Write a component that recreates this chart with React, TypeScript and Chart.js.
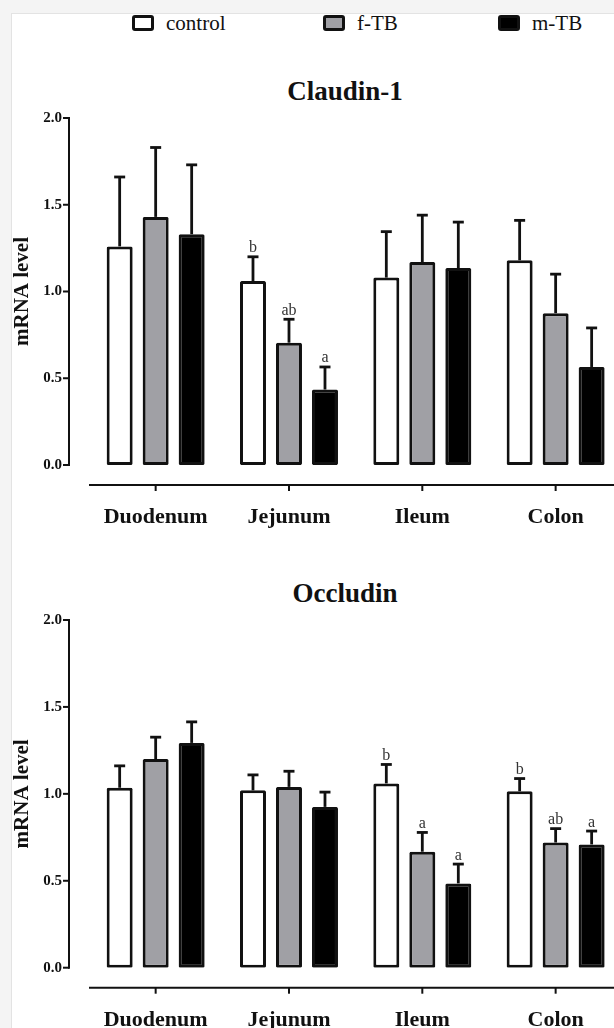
import React, { useEffect, useRef } from 'react';
import { Chart, registerables } from 'chart.js';

Chart.register(...registerables);

const FONT = '"Liberation Serif", "Times New Roman", Times, serif';

const categories = ['Duodenum', 'Jejunum', 'Ileum', 'Colon'];
const seriesNames = ['control', 'f-TB', 'm-TB'];
const seriesColors = ['#ffffff', '#a0a0a5', '#000000'];
const yTickValues = [0, 0.5, 1.0, 1.5, 2.0];
const yAxisTitle = 'mRNA level';

// Claudin-1 (mean and SEM)
const claudinControl = [1.26, 1.06, 1.08, 1.18];
const claudinFTB = [1.43, 0.705, 1.17, 0.875];
const claudinMTB = [1.33, 0.435, 1.135, 0.565];
const claudinControlErr = [0.4, 0.14, 0.265, 0.23];
const claudinFTBErr = [0.4, 0.135, 0.27, 0.225];
const claudinMTBErr = [0.4, 0.13, 0.265, 0.225];
const claudinControlSig = ['', 'b', '', ''];
const claudinFTBSig = ['', 'ab', '', ''];
const claudinMTBSig = ['', 'a', '', ''];

// Occludin (mean and SEM)
const occludinControl = [1.035, 1.02, 1.06, 1.015];
const occludinFTB = [1.2, 1.04, 0.667, 0.72];
const occludinMTB = [1.293, 0.925, 0.485, 0.709];
const occludinControlErr = [0.126, 0.089, 0.109, 0.073];
const occludinFTBErr = [0.126, 0.09, 0.111, 0.08];
const occludinMTBErr = [0.121, 0.085, 0.111, 0.077];
const occludinControlSig = ['', '', 'b', 'b'];
const occludinFTBSig = ['', '', 'a', 'ab'];
const occludinMTBSig = ['', '', 'a', 'a'];

const decorPlugin = {
  id: 'panelDecor',
  afterDatasetsDraw(chart: any, _args: any, opts: any) {
    const { ctx, chartArea, scales } = chart;
    const x = scales.x;
    const y = scales.y;
    ctx.save();
    ctx.strokeStyle = '#111';
    ctx.lineCap = 'butt';
    chart.data.datasets.forEach((ds: any, di: number) => {
      const meta = chart.getDatasetMeta(di);
      meta.data.forEach((bar: any, i: number) => {
        const v = ds.data[i];
        const e = opts.errors[di][i];
        const yv = y.getPixelForValue(v);
        const ye = y.getPixelForValue(v + e);
        ctx.lineWidth = 2.8;
        ctx.beginPath();
        ctx.moveTo(bar.x, yv);
        ctx.lineTo(bar.x, ye);
        ctx.stroke();
        ctx.beginPath();
        ctx.moveTo(bar.x - 5.5, ye);
        ctx.lineTo(bar.x + 5.5, ye);
        ctx.stroke();
        const t = opts.letters[di][i];
        if (t) {
          ctx.fillStyle = '#333';
          ctx.font = `16px ${FONT}`;
          ctx.textAlign = 'center';
          ctx.textBaseline = 'alphabetic';
          ctx.fillText(t, bar.x, ye - 4.5);
        }
      });
    });
    // axes (offset GraphPad style)
    ctx.lineWidth = 2;
    const axX = chartArea.left - 20;
    ctx.beginPath();
    ctx.moveTo(axX, y.getPixelForValue(2) - 1);
    ctx.lineTo(axX, y.getPixelForValue(0) + 1);
    ctx.stroke();
    y.ticks.forEach((t: any) => {
      const py = y.getPixelForValue(t.value);
      ctx.beginPath();
      ctx.moveTo(axX - 6, py);
      ctx.lineTo(axX, py);
      ctx.stroke();
    });
    const axY = chartArea.bottom + 20;
    ctx.beginPath();
    ctx.moveTo(chartArea.left, axY);
    ctx.lineTo(chartArea.right, axY);
    ctx.stroke();
    categories.forEach((_c, i) => {
      const px = x.getPixelForValue(i);
      ctx.beginPath();
      ctx.moveTo(px, axY);
      ctx.lineTo(px, axY + 6);
      ctx.stroke();
    });
    ctx.restore();
  },
};

type PanelProps = {
  top: number;
  height: number;
  padTop: number;
  xHeight: number;
  values: number[][];
  errors: number[][];
  letters: string[][];
};

function Panel({ top, height, padTop, xHeight, values, errors, letters }: PanelProps) {
  const ref = useRef<HTMLCanvasElement | null>(null);
  useEffect(() => {
    if (!ref.current) return;
    const chart = new Chart(ref.current, {
      type: 'bar',
      data: {
        labels: categories,
        datasets: seriesNames.map((name, i) => ({
          label: name,
          data: values[i],
          backgroundColor: seriesColors[i],
          borderColor: '#111',
          borderWidth: 3,
          borderRadius: 1.5,
          borderSkipped: false,
          categoryPercentage: 0.81,
          barPercentage: 0.722,
        })),
      },
      options: {
        responsive: false,
        animation: false,
        layout: { padding: { left: 0, right: 17.7, top: padTop, bottom: 0 } },
        plugins: {
          legend: { display: false },
          title: { display: false },
          tooltip: { enabled: false },
          panelDecor: { errors, letters },
        } as any,
        scales: {
          x: {
            type: 'category',
            offset: true,
            grid: { display: false, drawTicks: false },
            border: { display: false },
            ticks: {
              color: '#111',
              font: { family: FONT, size: 22, weight: 'bold' },
              padding: 39,
              maxRotation: 0,
              autoSkip: false,
            },
            afterFit: (s: any) => {
              s.height = xHeight;
            },
          },
          y: {
            min: 0,
            max: 2,
            grid: { display: false, drawTicks: false },
            border: { display: false },
            afterBuildTicks: (s: any) => {
              s.ticks = yTickValues.map((v) => ({ value: v }));
            },
            ticks: {
              color: '#111',
              font: { family: FONT, size: 15, weight: 'bold' },
              padding: 27,
              callback: (v: any) => Number(v).toFixed(1),
            },
            title: {
              display: true,
              text: yAxisTitle,
              color: '#111',
              font: { family: FONT, size: 21, weight: 'bold' },
              padding: { top: 10, bottom: 0 },
            },
            afterFit: (s: any) => {
              s.width = 89;
            },
          },
        } as any,
      },
      plugins: [decorPlugin],
    });
    return () => chart.destroy();
  }, []);
  return (
    <canvas
      ref={ref}
      width={640}
      height={height}
      style={{ position: 'absolute', left: 0, top, width: 640, height }}
    />
  );
}

const legendLefts = [132, 323, 498];

function Legend() {
  return (
    <>
      {seriesNames.map((n, i) => (
        <div
          key={n}
          style={{
            position: 'absolute',
            left: legendLefts[i],
            top: 15,
            height: 16,
            display: 'flex',
            alignItems: 'center',
            fontFamily: FONT,
            fontSize: 21,
            lineHeight: '16px',
            color: '#111',
            whiteSpace: 'nowrap',
          }}
        >
          <div
            style={{
              width: 22,
              height: 16,
              boxSizing: 'border-box',
              border: '3px solid #111',
              borderRadius: 3,
              background: seriesColors[i],
              marginRight: 12,
            }}
          />
          <span>{n}</span>
        </div>
      ))}
    </>
  );
}

const titleStyle = (top: number): React.CSSProperties => ({
  position: 'absolute',
  left: 245,
  width: 200,
  top,
  textAlign: 'center',
  fontFamily: FONT,
  fontWeight: 'bold',
  fontSize: 27,
  lineHeight: '32px',
  color: '#111',
  whiteSpace: 'nowrap',
});

export default function App() {
  return (
    <div
      style={{
        position: 'fixed',
        left: 0,
        top: 0,
        width: 614,
        height: 1028,
        overflow: 'hidden',
        background: '#f4f4f4',
      }}
    >
      <div
        style={{
          position: 'absolute',
          left: 11,
          top: 13,
          width: 700,
          height: 1100,
          background: '#ffffff',
          border: '1px solid #e3e3e3',
        }}
      />
      <Legend />
      <div style={titleStyle(74.5)}>Claudin-1</div>
      <div style={titleStyle(576.5)}>Occludin</div>
      <Panel
        top={82}
        height={468}
        padTop={0}
        xHeight={85}
        values={[claudinControl, claudinFTB, claudinMTB]}
        errors={[claudinControlErr, claudinFTBErr, claudinMTBErr]}
        letters={[claudinControlSig, claudinFTBSig, claudinMTBSig]}
      />
      <Panel
        top={584}
        height={469}
        padTop={0}
        xHeight={85.3}
        values={[occludinControl, occludinFTB, occludinMTB]}
        errors={[occludinControlErr, occludinFTBErr, occludinMTBErr]}
        letters={[occludinControlSig, occludinFTBSig, occludinMTBSig]}
      />
    </div>
  );
}
